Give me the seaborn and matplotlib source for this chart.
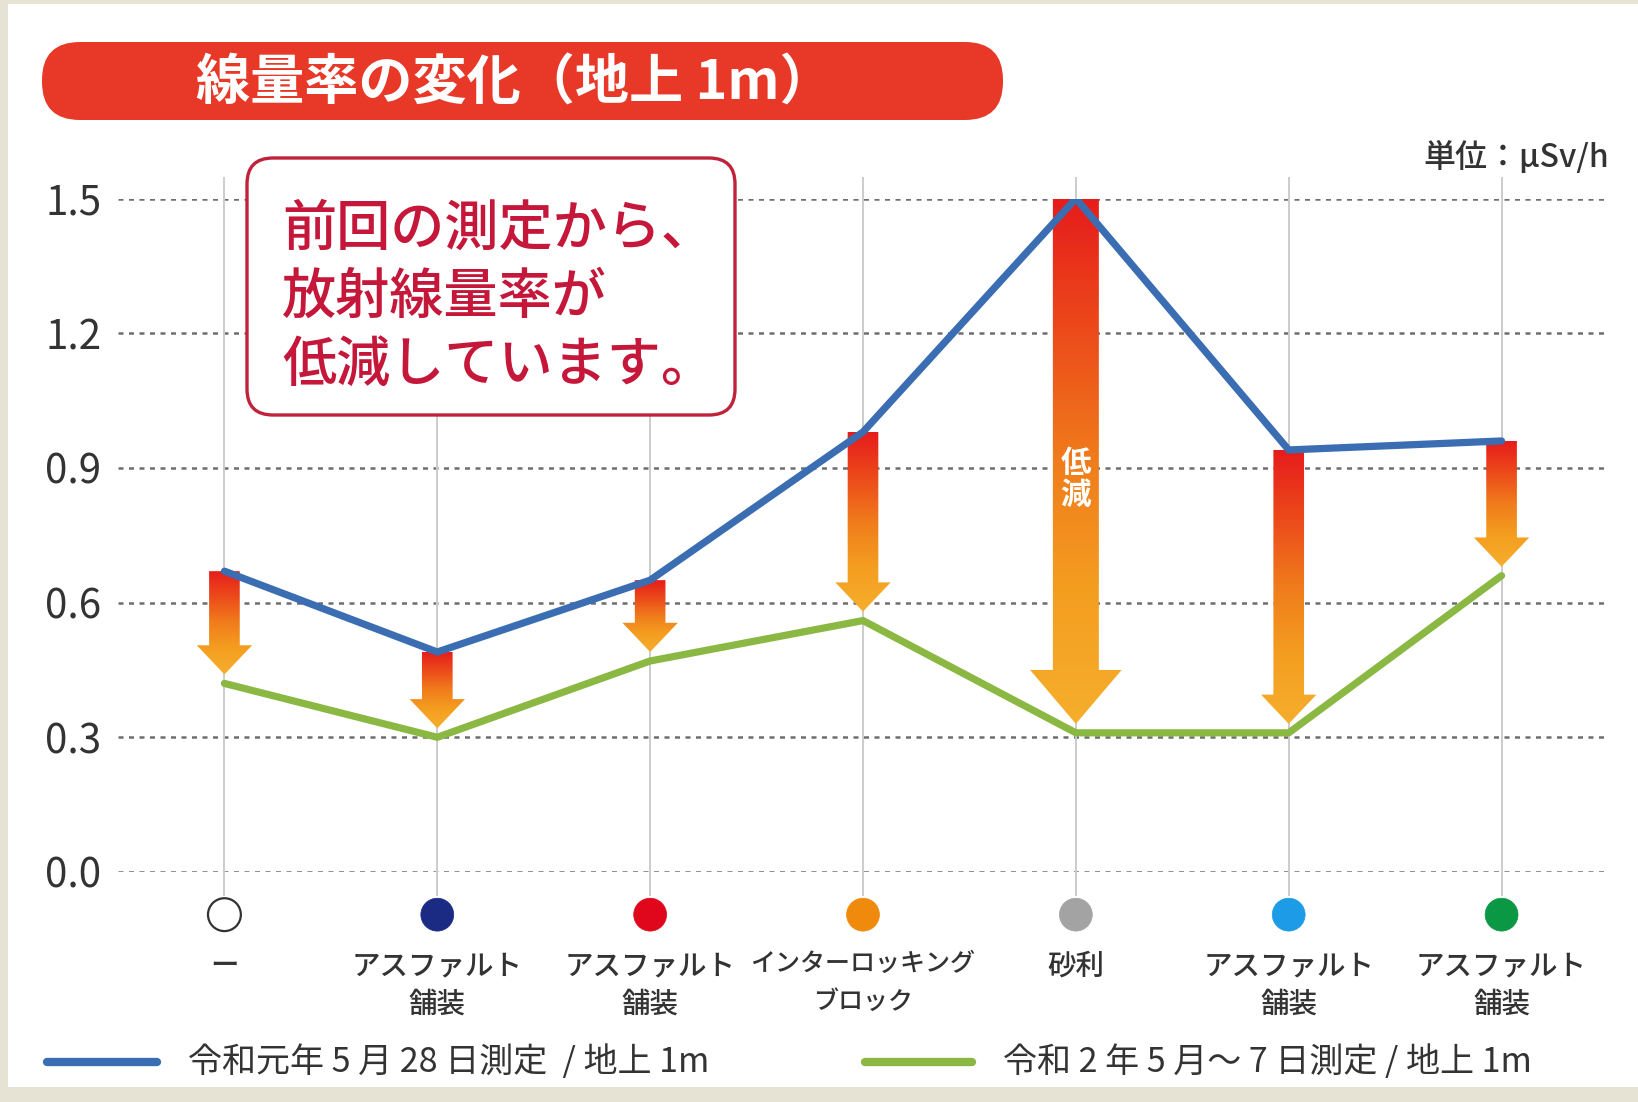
import numpy as np
import pandas as pd
import matplotlib
matplotlib.use("Agg")
import matplotlib.pyplot as plt
import matplotlib.colors as mcolors
import matplotlib.transforms as mtransforms
from matplotlib.path import Path
from matplotlib.patches import PathPatch, FancyBboxPatch, Rectangle
from matplotlib.lines import Line2D
import seaborn as sns

# ---------------- data ----------------
categories = ["ー", "アスファルト\n舗装", "アスファルト\n舗装", "インターロッキング\nブロック",
              "砂利", "アスファルト\n舗装", "アスファルト\n舗装"]
marker_colors = ["#FFFFFF", "#1B2A82", "#E0061C", "#F08A0C", "#A3A3A3", "#1E9BE6", "#0A9845"]
blue_2019 = [0.67, 0.49, 0.65, 0.98, 1.50, 0.94, 0.96]
green_2020 = [0.42, 0.30, 0.47, 0.56, 0.31, 0.31, 0.66]
yticks = [0.0, 0.3, 0.6, 0.9, 1.2, 1.5]
ytick_labels = ["0.0", "0.3", "0.6", "0.9", "1.2", "1.5"]
legend_labels = ["令和元年 5 月 28 日測定  / 地上 1m", "令和 2 年 5 月～ 7 日測定 / 地上 1m"]
title_text = "線量率の変化（地上 1m）"
callout_lines = ["前回の測定から、", "放射線量率が", "低減しています。"]
unit_text = "単位：μSv/h"

# ---------------- style ----------------
sns.set_theme(style="white")
plt.rcParams["font.family"] = ["Noto Sans CJK JP", "DejaVu Sans"]

W, H = 1638, 1102
fig = plt.figure(figsize=(W / 100, H / 100), dpi=100)
fig.patch.set_facecolor("#E7E3D4")

def fx(x):
    return x / W

def fy(y_top):
    return 1 - y_top / H

# white panel
fig.patches.append(Rectangle((fx(8), fy(1087)), 1 - fx(8), fy(4) - fy(1087),
                             transform=fig.transFigure, facecolor="white",
                             edgecolor="none", zorder=-5))

BLUE = "#3A6DB1"
GREEN = "#8BB743"
TXT = "#333333"

ax_left, ax_right = 118, 1608
ax_top, ax_bot = 198.5, 872
ax = fig.add_axes([fx(ax_left), fy(ax_bot), fx(ax_right - ax_left), (ax_bot - ax_top) / H])
ax.set_facecolor("none")

x = np.arange(len(categories))
df = pd.DataFrame({"x": x, "blue": blue_2019, "green": green_2020})

# vertical light grey guide lines
ax.vlines(x, -0.053, 1.547, color="#CCCCCC", lw=1.4, zorder=1, clip_on=False)

# gradient arrows
cmap = mcolors.LinearSegmentedColormap.from_list(
    "arr", ["#E61C1C", "#EC4A1A", "#F07C1C", "#F49E20", "#F6AE2C"])
grad = np.linspace(0, 1, 256).reshape(-1, 1)
for i, (b, g) in enumerate(zip(blue_2019, green_2020)):
    top = b
    tip = g + 0.02
    big = (top - tip) > 0.8
    sw = 0.108 if big else 0.072
    hw = 0.215 if big else 0.13
    hl = 0.12 if big else 0.065
    verts = [(i - sw, top), (i + sw, top), (i + sw, tip + hl), (i + hw, tip + hl),
             (i, tip), (i - hw, tip + hl), (i - sw, tip + hl), (i - sw, top)]
    codes = [Path.MOVETO] + [Path.LINETO] * 6 + [Path.CLOSEPOLY]
    patch = PathPatch(Path(verts, codes), facecolor="none", edgecolor="none")
    ax.add_patch(patch)
    im = ax.imshow(grad, cmap=cmap, extent=(i - hw, i + hw, tip, top),
                   origin="upper", aspect="auto", zorder=3)
    im.set_clip_path(patch)
    if big:
        ax.text(i, (b + g) / 2 - 0.03, "低\n減", color="white", fontsize=22,
                fontweight="bold", ha="center", va="center", linespacing=1.0, zorder=4)

# lines
sns.lineplot(data=df, x="x", y="blue", color=BLUE, lw=5.2, ax=ax, sort=False,
             zorder=5, solid_joinstyle="miter", legend=False)
sns.lineplot(data=df, x="x", y="green", color=GREEN, lw=5.2, ax=ax, sort=False,
             zorder=5, solid_joinstyle="miter", legend=False)

# category markers below the axis
ax.scatter(x, [-0.095] * len(x), s=560, c=marker_colors,
           edgecolors=["#333333"] + list(marker_colors[1:]), linewidths=[1.6] + [0.5] * 6,
           zorder=6, clip_on=False)

ax.set_xlim(-0.5, 6.5)
ax.set_ylim(0, 1.5)
ax.set_yticks(yticks)
ax.set_yticklabels(ytick_labels, fontsize=29, color=TXT)
ax.set_xticks(x)
ax.set_xticklabels(categories, fontsize=20.5, color=TXT, linespacing=1.4,
                   fontweight="medium")
for lab in ax.get_xticklabels():
    if len(lab.get_text().split("\n")[0]) > 7:
        lab.set_fontsize(18)
        lab.set_linespacing(1.6)
ax.tick_params(axis="x", length=0, pad=57)
ax.tick_params(axis="y", length=0, pad=12)
ax.set_xlabel("")
ax.set_ylabel("")
for s in ax.spines.values():
    s.set_visible(False)
ax.grid(False)
ax.yaxis.grid(True, color="#6E6E6E", lw=1.8, linestyle=(0, (2.0, 2.2)), zorder=0)
ax.set_axisbelow(True)

# title box
ident = mtransforms.IdentityTransform()
tb = FancyBboxPatch((42, H - 120), 1003 - 42, 78,
                    boxstyle="round,pad=0,rounding_size=38",
                    transform=ident, facecolor="#E73828", edgecolor="none", zorder=2)
fig.patches.append(tb)
fig.text(fx(515), fy(84), title_text, color="white", fontsize=39, fontweight="bold",
         ha="center", va="center", zorder=3)

# callout box
cb = FancyBboxPatch((247, H - 415), 735 - 247, 415 - 158,
                    boxstyle="round,pad=0,rounding_size=26",
                    transform=ident, facecolor="white", edgecolor="#C0223B",
                    lw=2.4, zorder=2)
fig.patches.append(cb)
for yy, line in zip([229, 297, 365], callout_lines):
    fig.text(fx(282), fy(yy), line, color="#C5173A", fontsize=39, fontweight="medium",
             ha="left", va="center", zorder=3)

# unit
fig.text(fx(1609), fy(157), unit_text, color=TXT, fontsize=23, fontweight="medium",
         ha="right", va="center")

# legend (manual)
for (x0, x1, tx, col, lab) in [(47, 157, 188, BLUE, legend_labels[0]),
                                (865, 972, 1003, GREEN, legend_labels[1])]:
    fig.add_artist(Line2D([fx(x0), fx(x1)], [fy(1062), fy(1062)], color=col, lw=6,
                          solid_capstyle="round", transform=fig.transFigure))
    fig.text(fx(tx), fy(1062), lab, color=TXT, fontsize=24.5, ha="left", va="center")

fig.savefig("out.png", dpi=100, facecolor=fig.get_facecolor())
